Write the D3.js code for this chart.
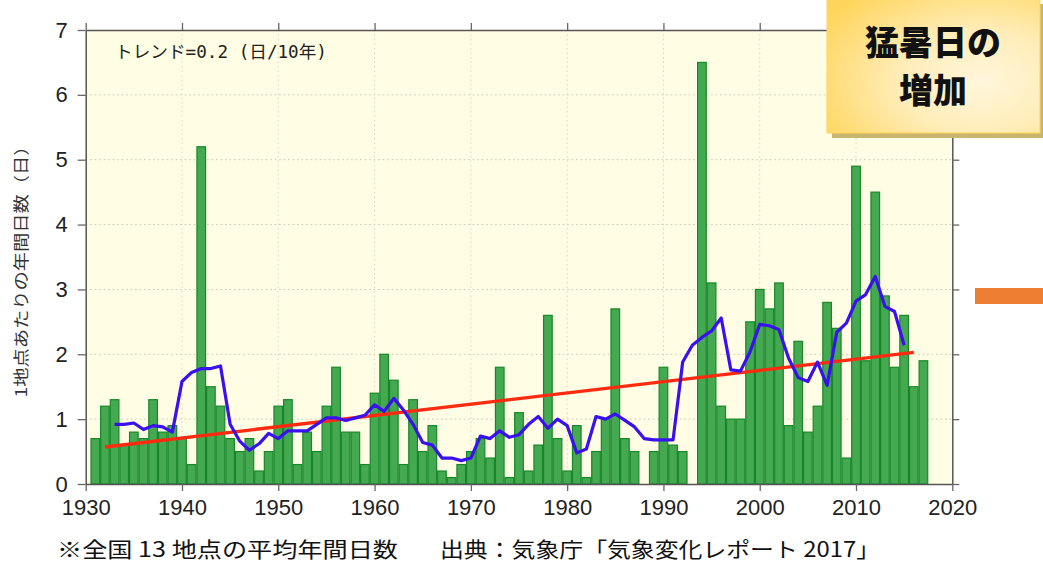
<!DOCTYPE html>
<html><head><meta charset="utf-8">
<script src="https://cdn.jsdelivr.net/npm/d3@7"></script>
<style>
html,body{margin:0;padding:0;background:#fff;}
svg{display:block;}
</style></head>
<body>
<svg id="chart" width="1043" height="563"></svg>
<script>
const years = d3.range(1931, 2018);
const days = [
 0.7,1.2,1.3,0.6,0.8,0.7,1.3,0.8,0.9,0.7,
 0.3,5.2,1.5,1.2,0.7,0.5,0.7,0.2,0.5,1.2,
 1.3,0.3,0.8,0.5,1.2,1.8,0.8,0.8,0.3,1.4,
 2.0,1.6,0.3,1.3,0.5,0.9,0.2,0.1,0.3,0.5,
 0.7,0.4,1.8,0.1,1.1,0.2,0.6,2.6,0.7,0.2,
 0.9,0.1,0.5,1.0,2.7,0.7,0.5,0.0,0.5,1.8,
 0.6,0.5,0.0,6.5,3.1,1.2,1.0,1.0,2.5,3.0,
 2.7,3.1,0.9,2.2,0.8,1.2,2.8,2.4,0.4,4.9,
 1.9,4.5,2.9,1.8,2.6,1.5,1.9
];
const meanYears = d3.range(1933, 2016);
const meanValues = [
 0.92,0.92,0.94,0.84,0.90,0.88,0.80,1.58,1.72,1.78,
 1.78,1.82,0.92,0.66,0.52,0.62,0.78,0.70,0.82,0.82,
 0.82,0.92,1.02,1.02,0.98,1.02,1.06,1.22,1.12,1.32,
 1.14,0.92,0.64,0.60,0.40,0.40,0.36,0.40,0.74,0.70,
 0.82,0.72,0.76,0.92,1.04,0.86,1.00,0.90,0.48,0.54,
 1.04,1.00,1.08,0.98,0.88,0.70,0.68,0.68,0.68,1.88,
 2.14,2.26,2.36,2.56,1.76,1.74,2.04,2.46,2.44,2.38,
 1.94,1.64,1.58,1.88,1.52,2.34,2.48,2.82,2.92,3.20,
 2.74,2.66,2.14
];
const trendYears = [1932, 2016];
const trendValues = [0.57, 2.03];
const xTicks = [1930,1940,1950,1960,1970,1980,1990,2000,2010,2020];
const yTicks = [0,1,2,3,4,5,6,7];

const L = 85.7, R = 952.3, T = 30, B = 484;
const svg = d3.select("#chart");
const x = d3.scaleLinear().domain([1930, 2020]).range([L, R]);
const y = d3.scaleLinear().domain([0, 7]).range([B, T]);

svg.append("rect").attr("x", L).attr("y", T).attr("width", R - L).attr("height", B - T).attr("fill", "#FFFDE3");

// grid
svg.append("g").selectAll("line").data(yTicks.slice(1, -1)).join("line")
  .attr("x1", L).attr("x2", R).attr("y1", d => y(d)).attr("y2", d => y(d))
  .attr("stroke", "#c4c4b4").attr("stroke-width", 1).attr("stroke-dasharray", "1.5,3");
svg.append("g").selectAll("line").data(xTicks.slice(1, -1)).join("line")
  .attr("x1", d => x(d)).attr("x2", d => x(d)).attr("y1", T).attr("y2", B)
  .attr("stroke", "#d6d6c8").attr("stroke-width", 1).attr("stroke-dasharray", "1.5,3");

// bars
svg.append("g").selectAll("rect").data(years.map((yr, i) => ({yr, v: days[i]})).filter(d => d.v > 0)).join("rect")
  .attr("x", d => x(d.yr - 0.5) + 0.5)
  .attr("width", d => x(d.yr + 0.5) - x(d.yr - 0.5) - 1)
  .attr("y", d => y(d.v))
  .attr("height", d => B - y(d.v))
  .attr("fill", "#44A951").attr("stroke", "#17882A").attr("stroke-width", 1.2);

// trend
svg.append("path")
  .datum(trendYears.map((yr, i) => [yr, trendValues[i]]))
  .attr("d", d3.line().x(d => x(d[0])).y(d => y(d[1])))
  .attr("fill", "none").attr("stroke", "#FF2A10").attr("stroke-width", 3.4);

// running mean
svg.append("path")
  .datum(meanYears.map((yr, i) => [yr, meanValues[i]]))
  .attr("d", d3.line().x(d => x(d[0])).y(d => y(d[1])))
  .attr("fill", "none").attr("stroke", "#3A10F0").attr("stroke-width", 3.2)
  .attr("stroke-linejoin", "round");

// axes
const axisFont = "'Liberation Sans Narrow','Arial Narrow','Liberation Sans',sans-serif";
function styleAxis(g) {
  g.attr("font-size", null).attr("font-family", null);
  g.selectAll(".domain").attr("stroke", "#555").attr("stroke-width", 1.5);
  g.selectAll(".tick line").attr("stroke", "#666").attr("stroke-width", 1.3);
}
const gx = svg.append("g").attr("transform", `translate(0,${B})`)
  .call(d3.axisBottom(x).tickValues(xTicks).tickFormat(d3.format("d")).tickSize(7).tickSizeOuter(0).tickPadding(8));
styleAxis(gx);
gx.selectAll("text").style("font-family", axisFont).style("font-size", "22px").attr("fill", "#222");

const gxt = svg.append("g").attr("transform", `translate(0,${T})`)
  .call(d3.axisTop(x).tickValues(xTicks).tickFormat("").tickSize(7).tickSizeOuter(0));
styleAxis(gxt);

const gy = svg.append("g").attr("transform", `translate(${L},0)`)
  .call(d3.axisLeft(y).tickValues(yTicks).tickFormat(d3.format("d")).tickSize(8).tickSizeOuter(0).tickPadding(10));
styleAxis(gy);
gy.selectAll("text").style("font-family", axisFont).style("font-size", "22px").attr("fill", "#222");

const gyr = svg.append("g").attr("transform", `translate(${R},0)`)
  .call(d3.axisRight(y).tickValues(yTicks).tickFormat("").tickSize(7).tickSizeOuter(0));
styleAxis(gyr);

// trend label
svg.append("text").attr("x", 115).attr("y", 58)
  .attr("font-family", "'DejaVu Sans Mono','Noto Sans CJK JP',monospace")
  .attr("font-size", 17).attr("fill", "#222")
  .attr("textLength", 212).attr("lengthAdjust", "spacingAndGlyphs")
  .text("トレンド=0.2 (日/10年)");

// y label
svg.append("text")
  .attr("transform", "translate(27,267) rotate(-90)")
  .attr("text-anchor", "middle")
  .attr("font-family", "'Noto Sans CJK JP',sans-serif")
  .attr("font-size", 16).attr("fill", "#333")
  .attr("textLength", 261).attr("lengthAdjust", "spacingAndGlyphs")
  .text("1地点あたりの年間日数（日）");

// caption
const capFont = "'Noto Sans CJK JP',sans-serif";
svg.append("text").attr("x", 57).attr("y", 557)
  .attr("font-family", capFont).attr("font-size", 21).attr("fill", "#111")
  .attr("textLength", 341).attr("lengthAdjust", "spacingAndGlyphs")
  .text("※全国 13 地点の平均年間日数");
svg.append("text").attr("x", 440).attr("y", 557)
  .attr("font-family", capFont).attr("font-size", 21).attr("fill", "#111")
  .attr("textLength", 440).attr("lengthAdjust", "spacingAndGlyphs")
  .text("出典：気象庁「気象変化レポート 2017」");

// title box
const defs = svg.append("defs");
const grad = defs.append("radialGradient").attr("id", "boxg")
  .attr("cx", "72%").attr("cy", "62%").attr("r", "85%");
grad.append("stop").attr("offset", "0%").attr("stop-color", "#FFF6DC");
grad.append("stop").attr("offset", "45%").attr("stop-color", "#FFEDB8");
grad.append("stop").attr("offset", "100%").attr("stop-color", "#FFD55C");
svg.append("rect").attr("x", 832).attr("y", 4).attr("width", 211).attr("height", 134).attr("fill", "#C8B56E");
svg.append("rect").attr("x", 827).attr("y", -2).attr("width", 213).attr("height", 135)
  .attr("fill", "url(#boxg)").attr("stroke", "#FFD458").attr("stroke-width", 1);
svg.append("text").attr("x", 933).attr("y", 55).attr("text-anchor", "middle")
  .attr("font-family", "'Noto Sans CJK JP',sans-serif").attr("font-weight", 900)
  .attr("font-size", 34).attr("fill", "#111").text("猛暑日の");
svg.append("text").attr("x", 933).attr("y", 103).attr("text-anchor", "middle")
  .attr("font-family", "'Noto Sans CJK JP',sans-serif").attr("font-weight", 900)
  .attr("font-size", 34).attr("fill", "#111").text("増加");

// orange marker
svg.append("rect").attr("x", 975).attr("y", 288).attr("width", 68).attr("height", 16).attr("fill", "#ED7D31");
</script>
</body></html>
